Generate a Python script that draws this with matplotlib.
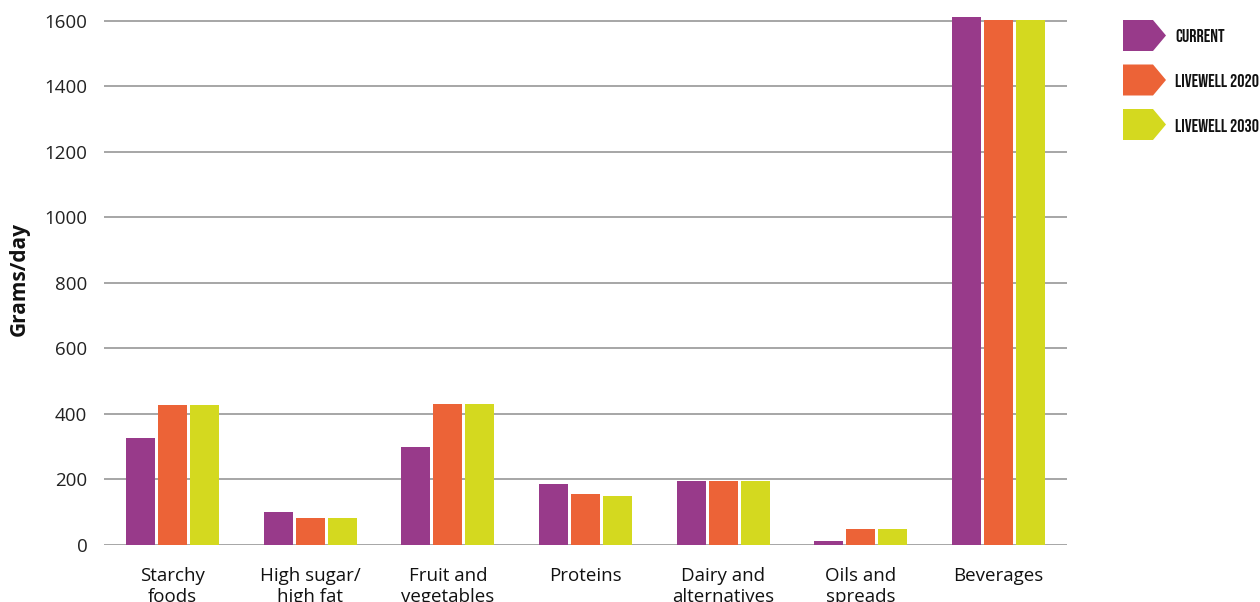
import matplotlib
matplotlib.use("Agg")
import matplotlib.pyplot as plt
from matplotlib.patches import Polygon
import numpy as np

categories = ["Starchy\nfoods", "High sugar/\nhigh fat", "Fruit and\nvegetables", "Proteins",
              "Dairy and\nalternatives", "Oils and\nspreads", "Beverages"]
series_names = ["CURRENT", "LIVEWELL 2020", "LIVEWELL 2030"]
current = [327, 101, 299, 186, 195, 12, 1612]
livewell_2020 = [427, 81, 430, 156, 195, 49, 1603]
livewell_2030 = [427, 83, 430, 150, 195, 49, 1603]
colors = ["#983a8a", "#ec6337", "#d4d91f"]
y_ticks = [0, 200, 400, 600, 800, 1000, 1200, 1400, 1600]

plt.rcParams['font.family'] = ['Open Sans', 'DejaVu Sans']

W, H = 1260, 602
fig = plt.figure(figsize=(W / 100, H / 100), dpi=100)
ax_left, ax_right, ax_bottom, ax_top = 104, 1067, 545, 1.3
ax = fig.add_axes([ax_left / W, 1 - ax_bottom / H, (ax_right - ax_left) / W, (ax_bottom - ax_top) / H])

x = np.arange(len(categories))
width = 0.211
offset = 0.233
for i, vals in enumerate([current, livewell_2020, livewell_2030]):
    ax.bar(x + (i - 1) * offset, vals, width=width, color=colors[i], zorder=3, label=series_names[i])

ax.set_xlim(-0.5, len(categories) - 0.5)
ax.set_ylim(0, 1660)
ax.set_yticks(y_ticks)
ax.set_yticklabels([str(t) for t in y_ticks], fontsize=13.5, color="#222222")
ax.set_xticks(x)
ax.set_xticklabels(categories, fontsize=13.5, color="#111111", linespacing=1.2)
ax.tick_params(axis='x', length=0, pad=16)
ax.tick_params(axis='y', length=0, pad=12)
ax.grid(axis='y', color="#a6a6a6", linewidth=1.4, zorder=0)
for s in ax.spines.values():
    s.set_visible(False)

# axis title
fig.text(19 / W, 1 - 279 / H, "Grams/day", fontsize=15, fontweight='bold', rotation=90,
         ha='center', va='center', color="#111111")

# arrow-shaped legend keys
def px(xp, yp):
    return (xp / W, 1 - yp / H)

rows = [35.5, 80, 124.5]
for name, col, yc in zip(series_names, colors, rows):
    h = 15.5
    pts = [px(1123, yc - h), px(1153, yc - h), px(1166, yc), px(1153, yc + h), px(1123, yc + h)]
    fig.add_artist(Polygon(pts, closed=True, transform=fig.transFigure, facecolor=col, edgecolor='none'))
    fig.text(1175 / W, 1 - (yc + 0.5) / H, name, fontsize=13,
             family=['Bebas Neue', 'Oswald', 'Fjalla One', 'Archivo Narrow', 'DejaVu Sans'],
             va='center', ha='left', color="#111111")

fig.savefig("out.png", dpi=100)
